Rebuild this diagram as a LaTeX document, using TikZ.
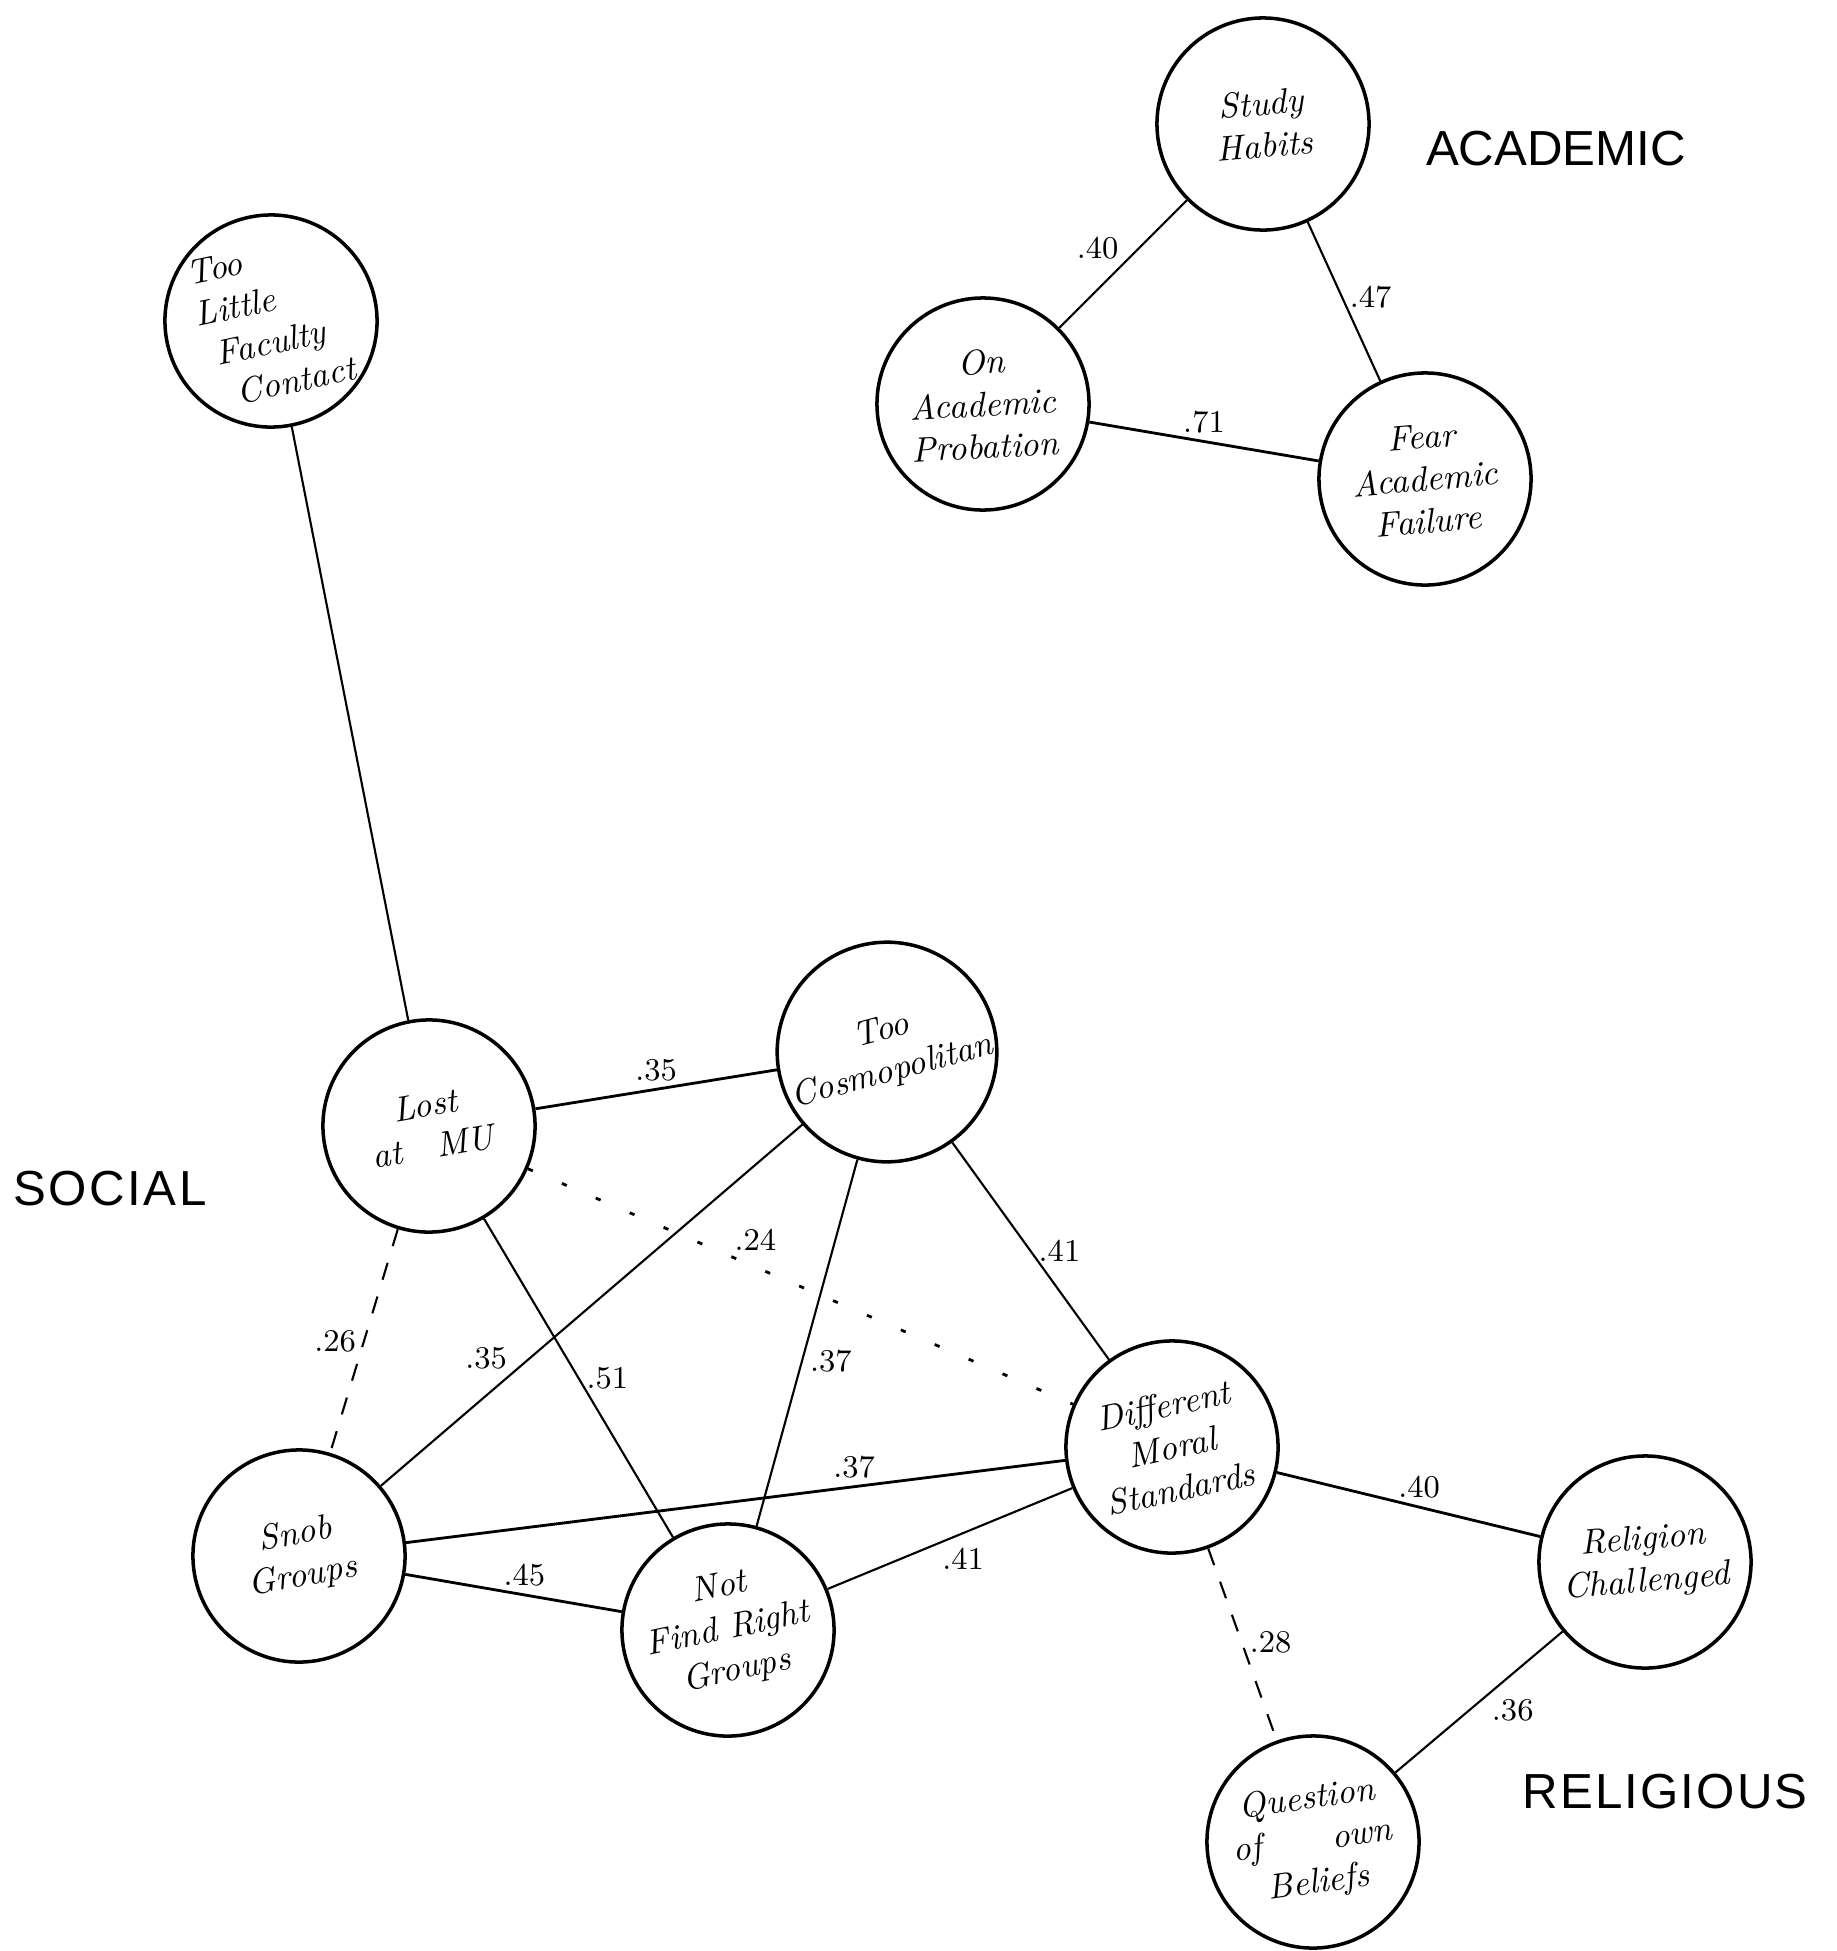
\documentclass[tikz,border=0pt]{standalone}
\usepackage{fontspec}
\newfontfamily\groupfont{Liberation Sans}
\tikzset{
  topic/.style={circle, draw, line width=1pt, minimum size=2.12cm, inner sep=0pt, align=center, font=\itshape},
  tie/.style={semithick},
  tiedash/.style={semithick, dash pattern=on 5pt off 5pt},
  tiedot/.style={thick, dash pattern=on 1.5pt off 9pt},
  wt/.style={font=\small, inner sep=2pt},
  group/.style={font=\groupfont\fontsize{14}{16}\selectfont}
}

\begin{document}
\begin{tikzpicture}[x=0.01cm, y=-0.01cm]
	%%%%% START %%%%%
	\useasboundingbox (0,0) rectangle (1837,1951);
	
	% academic cluster
	\node[topic, rotate=5] (study) at (1263,124) {Study\\Habits};
	\node[topic, rotate=3] (probation) at (983,404) {On\\Academic\\Probation};
	\node[topic, rotate=5] (fear) at (1425,479) {Fear\\Academic\\Failure};
	\node[group] (academic) at (1556,149) {ACADEMIC};
	
	\draw[tie] (study) -- node[wt, above left, inner sep=1pt] {.40} (probation);
	\draw[tie] (study) -- node[wt, right, pos=0.47] {.47} (fear);
	\draw[thick] (probation) -- node[wt, above] {.71} (fear);
	
	% social cluster
	\node[topic, rotate=12, align=left] (faculty) at (271,321) {Too\\Little\\\ Faculty\\\ \ Contact};
	\node[topic, rotate=10] (lost) at (429,1126) {Lost\\at\quad MU};
	\node[topic, rotate=15] (cosmo) at (887,1052) {Too\\Cosmopolitan};
	\node[topic, rotate=10] (snob) at (299,1556) {Snob\\Groups};
	\node[topic, rotate=12] (notfind) at (728,1630) {Not\\Find Right\\Groups};
	\node[topic, rotate=12] (moral) at (1172,1447) {Different\\Moral\\Standards};
	\node[group] (social) at (110,1189) {S\kern.7pt O\kern.7pt C\kern.7pt I\kern.7pt A\kern.7pt L};
	
	\draw[tie] (faculty) -- (lost);
	\draw[thick] (lost) -- node[wt, above] {.35} (cosmo);
	\draw[tiedot] (lost) -- node[wt, above right, pos=0.37, inner sep=1pt] {.24} (moral);
	\draw[tiedash] (lost) -- node[wt, left] {.26} (snob);
	\draw[tie] (cosmo) -- node[wt, above left, pos=0.69, inner sep=1pt] {.35} (snob);
	\draw[tie] (lost) -- node[wt, right, pos=0.5] {.51} (notfind);
	\draw[tie] (cosmo) -- node[wt, right, pos=0.55] {.37} (notfind);
	\draw[tie] (cosmo) -- node[wt, right] {.41} (moral);
	\draw[thick] (snob) -- node[wt, above, pos=0.68] {.37} (moral);
	\draw[thick] (snob) -- node[wt, above, pos=0.55] {.45} (notfind);
	\draw[tie] (notfind) -- node[wt, below right, pos=0.45, inner sep=1pt] {.41} (moral);
	
	% religious cluster
	\node[topic, rotate=5] (religion) at (1645,1562) {Religion\\Challenged};
	\node[topic, rotate=8] (question) at (1313,1842) {Question\\of\qquad own\\Beliefs};
	\node[group] (religious) at (1665,1792) {R\kern.6pt E\kern.6pt L\kern.6pt I\kern.6pt G\kern.6pt I\kern.6pt O\kern.6pt U\kern.6pt S};
	
	\draw[thick] (moral) -- node[wt, above, pos=0.54] {.40} (religion);
	\draw[tiedash] (moral) -- node[wt, right, pos=0.49] {.28} (question);
	\draw[tie] (religion) -- node[wt, below right, pos=0.45, inner sep=1pt] {.36} (question);
	%%%%% END %%%%%
\end{tikzpicture}
\end{document}
